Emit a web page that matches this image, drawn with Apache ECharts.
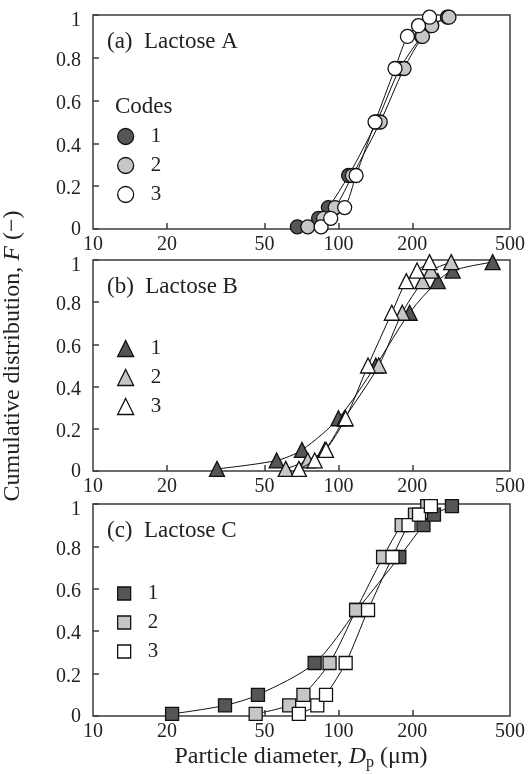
<!DOCTYPE html>
<html>
<head>
<meta charset="utf-8">
<script src="https://cdn.jsdelivr.net/npm/echarts@6/dist/echarts.min.js"></script>
<style>
  html, body { margin: 0; padding: 0; background: #fff; }
  #chart { width: 528px; height: 774px; }
</style>
</head>
<body>
<div id="chart"></div>
<script>
  // cumulative fraction levels, same for every code
  const levels = [0.01, 0.05, 0.1, 0.25, 0.5, 0.75, 0.9, 0.95, 0.99];
  const xTicks = [10, 20, 50, 100, 200, 500];
  const codes = ['1', '2', '3'];

  // particle diameters (um) at each level
  const diaA1 = [68, 83, 91, 110, 143, 178, 218, 238, 278];
  const diaA2 = [75, 87, 97, 114, 148, 185, 220, 240, 282];
  const diaA3 = [85, 93, 106, 118, 141, 170, 191, 212, 235];

  const diaB1 = [32, 56, 71, 100, 142, 195, 254, 292, 425];
  const diaB2 = [61, 75, 88, 106, 146, 182, 220, 238, 288];
  const diaB3 = [69, 80, 89, 107, 132, 165, 189, 209, 235];

  const diaC1 = [21, 34.5, 47, 80, 119, 177, 222, 245, 290];
  const diaC2 = [46, 63, 72, 92, 118, 152, 181, 205, 230];
  const diaC3 = [69, 82, 89, 107, 132, 166, 193, 213, 238];

  const font = "'Liberation Serif', 'Times New Roman', serif";
  const ink = '#222';
  const fills = ['#555555', '#c6c6c6', '#ffffff'];

  const panels = [
    { key: 'A', label: '(a)\u2002Lactose A', symbol: 'circle', size: 14, legendSize: 16, sets: [diaA1, diaA2, diaA3], top: 15, height: 214, legendTop: 126 },
    { key: 'B', label: '(b)\u2002Lactose B', symbol: 'triangle', size: 15, legendSize: 16, sets: [diaB1, diaB2, diaB3], top: 260, height: 211, legendTop: 338 },
    { key: 'C', label: '(c)\u2002Lactose C', symbol: 'rect', size: 13, legendSize: 13, sets: [diaC1, diaC2, diaC3], top: 504, height: 212, legendTop: 583 },
  ];

  const lg = (v) => Math.log10(v);

  const grid = [];
  const xAxis = [];
  const yAxis = [];
  const series = [];
  const legend = [];
  const title = [];

  panels.forEach((p, i) => {
    grid.push({
      left: 93,
      right: 16,
      top: p.top,
      height: p.height,
      show: true,
      borderColor: '#3c3c3c',
      borderWidth: 1.5,
      backgroundColor: 'transparent',
    });
    xAxis.push({
      type: 'value',
      gridIndex: i,
      min: lg(10),
      max: lg(500),
      axisLine: { show: false },
      splitLine: { show: false },
      axisTick: {
        inside: true,
        length: 6,
        customValues: xTicks.slice(1, -1).map(lg),
        lineStyle: { color: '#3c3c3c', width: 1.5 },
      },
      axisLabel: {
        customValues: xTicks.map(lg),
        formatter: (v) => String(Math.round(Math.pow(10, v))),
        margin: 6,
        fontFamily: font,
        fontSize: 20,
        color: ink,
      },
    });
    yAxis.push({
      type: 'value',
      gridIndex: i,
      min: 0,
      max: 1,
      interval: 0.2,
      axisLine: { show: false },
      splitLine: { show: false },
      axisTick: { inside: true, length: 6, lineStyle: { color: '#3c3c3c', width: 1.5 } },
      axisLabel: {
        // labels sit a little below their ticks in the original
        formatter: (v) => (v === 1 ? '{t|1}' : v === 0 ? '{z|0}' : '{n|' + (+v.toFixed(1)) + '}'),
        margin: 12,
        fontFamily: font,
        fontSize: 20,
        color: ink,
        rich: {
          t: { fontFamily: font, fontSize: 20, color: ink, padding: [11, 0, 0, 0] },
          n: { fontFamily: font, fontSize: 20, color: ink, padding: [6, 0, 0, 0] },
          z: { fontFamily: font, fontSize: 20, color: ink, padding: [2, 0, 0, 0] },
        },
      },
    });
    title.push({
      text: p.label,
      left: 107,
      top: p.top + 15,
      padding: 0,
      textStyle: { fontFamily: font, fontSize: 23, fontWeight: 'normal', color: ink },
    });

    const names = [];
    p.sets.forEach((dia, k) => {
      const name = p.key + codes[k];
      names.push(name);
      series.push({
        type: 'line',
        name: name,
        xAxisIndex: i,
        yAxisIndex: i,
        data: dia.map((d, j) => [lg(d), levels[j]]),
        smooth: 0.3,
        symbol: p.symbol,
        symbolSize: p.size,
        showAllSymbol: true,
        lineStyle: { color: '#111', width: 1 },
        itemStyle: { color: fills[k], borderColor: '#111', borderWidth: 1.3 },
        emphasis: { disabled: true },
        z: 2 + k,
      });
    });

    legend.push({
      orient: 'vertical',
      left: 117,
      top: p.legendTop,
      padding: 0,
      itemWidth: p.legendSize,
      itemHeight: p.legendSize,
      itemGap: 8,
      icon: p.symbol,
      data: names,
      selectedMode: false,
      formatter: (n) => n.slice(-1),
      itemStyle: { borderColor: '#111', borderWidth: 1.3 },
      textStyle: { fontFamily: font, fontSize: 21, color: ink, lineHeight: 20, padding: [0, 0, 0, 12] },
    });
  });

  const chart = echarts.init(document.getElementById('chart'), null, { renderer: 'canvas' });
  chart.setOption({
    animation: false,
    backgroundColor: '#fff',
    title: title,
    legend: legend,
    grid: grid,
    xAxis: xAxis,
    yAxis: yAxis,
    series: series,
    graphic: [
      {
        type: 'text',
        left: 115,
        top: 95,
        style: { text: 'Codes', fontFamily: font, fontSize: 23, fill: ink },
      },
      {
        type: 'text',
        x: 13,
        y: 356,
        rotation: Math.PI / 2,
        style: {
          text: '{a|Cumulative distribution, }{i|F}{a| (\u2212)}',
          align: 'center',
          verticalAlign: 'middle',
          rich: {
            a: { fontFamily: font, fontSize: 24, fill: ink },
            i: { fontFamily: font, fontSize: 24, fontStyle: 'italic', fill: ink },
          },
        },
      },
      {
        type: 'text',
        x: 301,
        y: 757,
        style: {
          text: '{a|Particle diameter, }{i|D}{s|p}{a| (\u03bcm)}',
          align: 'center',
          verticalAlign: 'middle',
          rich: {
            a: { fontFamily: font, fontSize: 24, fill: ink },
            i: { fontFamily: font, fontSize: 24, fontStyle: 'italic', fill: ink },
            s: { fontFamily: font, fontSize: 16, fill: ink, padding: [11, 0, 0, 0] },
          },
        },
      },
    ],
  });
</script>
</body>
</html>
